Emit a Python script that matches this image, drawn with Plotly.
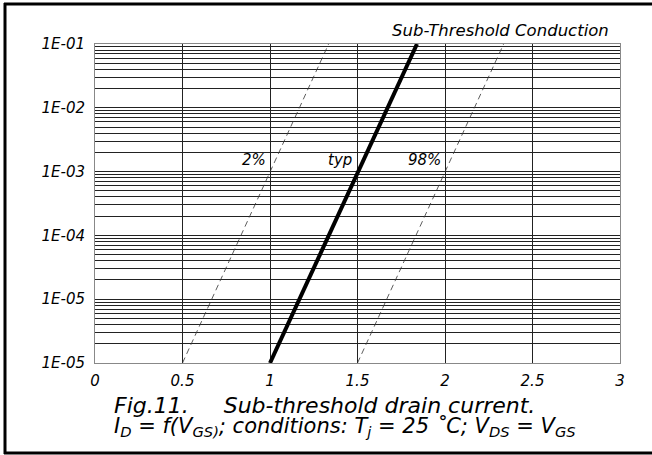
import plotly.graph_objects as go

# ---- data ----
vgs_typ = [1.0, 1.84]
id_typ = [1e-6, 1e-1]
vgs_2pct = [0.5, 1.335]
id_2pct = [1e-6, 1e-1]
vgs_98pct = [1.5, 2.335]
id_98pct = [1e-6, 1e-1]

x_tick_vals = [0, 0.5, 1, 1.5, 2, 2.5, 3]
x_tick_labels = ["0", "0.5", "1", "1.5", "2", "2.5", "3"]
y_decades = [1e-6, 1e-5, 1e-4, 1e-3, 1e-2, 1e-1]
y_decade_labels = ["1E-05", "1E-05", "1E-04", "1E-03", "1E-02", "1E-01"]
minor_mults = [2, 3, 4, 5, 6, 7, 8, 9]

curve_labels = ["2%", "typ", "98%"]
curve_label_x = [1.0, 1.49, 2.0]
curve_label_y = [1e-3, 1e-3, 1e-3]

# ---- layout geometry ----
WIDTH, HEIGHT = 652, 455
L, R, T, B = 95, 620, 44, 363
PW, PH = R - L, B - T

def px(x):
    return (x - L) / PW

def py(y):
    return (B - y) / PH

FONT = "DejaVu Sans"

tickvals = []
ticktext = []
for d, lab in zip(y_decades, y_decade_labels):
    tickvals.append(d)
    ticktext.append(lab)
    if d < y_decades[-1]:
        for m in minor_mults:
            tickvals.append(d * m)
            ticktext.append("")

fig = go.Figure()
fig.add_trace(go.Scatter(x=vgs_2pct, y=id_2pct, mode="lines",
                         line=dict(color="#333", width=0.8, dash="6px,4px"),
                         showlegend=False))
fig.add_trace(go.Scatter(x=vgs_98pct, y=id_98pct, mode="lines",
                         line=dict(color="#333", width=0.8, dash="6px,4px"),
                         showlegend=False))
fig.add_trace(go.Scatter(x=vgs_typ, y=id_typ, mode="lines",
                         line=dict(color="black", width=4),
                         showlegend=False))

for lab, xv, yv in zip(curve_labels, curve_label_x, curve_label_y):
    fig.add_annotation(x=xv, y=-3, xref="x", yref="y", text=lab,
                       showarrow=False, xanchor="right", yanchor="bottom",
                       xshift=-2, yshift=1,
                       font=dict(family=FONT, size=15, color="black", style="italic"))

fig.add_annotation(x=px(611), y=py(31), xref="paper", yref="paper",
                   text="Sub-Threshold Conduction", showarrow=False,
                   xanchor="right", yanchor="middle",
                   font=dict(family=FONT, size=16.5, color="black", style="italic"))

fig.add_annotation(x=px(112), y=py(405), xref="paper", yref="paper",
                   text="Fig.11.&nbsp;&nbsp;&nbsp;&nbsp; Sub-threshold drain current.",
                   showarrow=False, xanchor="left", yanchor="middle",
                   font=dict(family=FONT, size=22, color="black", style="italic"))
fig.add_annotation(x=px(112), y=py(427), xref="paper", yref="paper",
                   text="I<sub>D</sub> = f(V<sub>GS)</sub>; conditions: T<sub>j</sub> = 25 ˚C; V<sub>DS</sub> = V<sub>GS</sub>",
                   showarrow=False, xanchor="left", yanchor="middle",
                   font=dict(family=FONT, size=21, color="black", style="italic"))

# outer frame: left, top and bottom edges (open on the right, as in the reference)
frame_line = dict(color="black", width=3)
fig.add_shape(type="line", xref="paper", yref="paper",
              x0=px(5), x1=px(5), y0=py(454), y1=py(3), line=frame_line)
fig.add_shape(type="line", xref="paper", yref="paper",
              x0=px(4), x1=px(652), y0=py(4), y1=py(4), line=frame_line)
fig.add_shape(type="line", xref="paper", yref="paper",
              x0=px(4), x1=px(652), y0=py(453), y1=py(453), line=frame_line)

fig.update_xaxes(range=[0, 3], tickvals=x_tick_vals, ticktext=x_tick_labels,
                 showgrid=True, gridcolor="#222", gridwidth=1,
                 zeroline=False, showline=True, linecolor="#888", linewidth=1,
                 mirror=True, ticks="", ticklabelstandoff=4,
                 tickfont=dict(family=FONT, size=15, color="black", style="italic"))
fig.update_yaxes(type="log", range=[-6, -1], tickvals=tickvals, ticktext=ticktext,
                 showgrid=True, gridcolor="#222", gridwidth=1,
                 zeroline=False, showline=True, linecolor="#888", linewidth=1,
                 mirror=True, ticks="", ticklabelstandoff=6,
                 tickfont=dict(family=FONT, size=15, color="black", style="italic"))

fig.update_layout(width=WIDTH, height=HEIGHT,
                  margin=dict(l=L, r=WIDTH - R, t=T, b=HEIGHT - B, pad=0),
                  paper_bgcolor="white", plot_bgcolor="white",
                  showlegend=False)

fig.write_html("out.html", config={"displayModeBar": False},
               post_script="document.body.style.margin='0';document.body.style.overflow='hidden';")
